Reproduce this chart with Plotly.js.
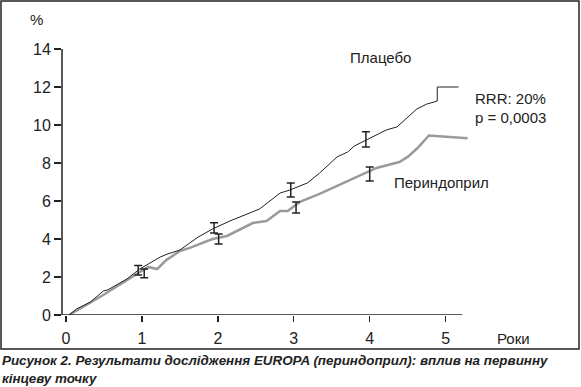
<!DOCTYPE html>
<html><head><meta charset="utf-8">
<script src="https://cdn.plot.ly/plotly-3.0.1.min.js"></script>
<style>html,body{margin:0;padding:0;background:#fff}</style>
</head><body><div id="chart" style="width:581px;height:387px"></div>
<script>
const placeboX = [0.04,0.14,0.32,0.49,0.55,0.80,0.97,1.24,1.33,1.5,1.63,1.74,1.93,2.16,2.55,2.82,2.95,3.18,3.34,3.57,3.71,3.80,4.22,4.36,4.62,4.75,4.89,4.89,5.17];
const placeboY = [0,0.32,0.68,1.26,1.32,1.89,2.42,3.05,3.2,3.42,3.79,4.1,4.53,4.95,5.58,6.42,6.58,6.95,7.47,8.32,8.58,8.9,9.74,9.9,10.84,11.1,11.26,12.0,12.0];
const periX = [0.04,0.32,0.49,1.08,1.2,1.32,1.5,1.63,1.93,2.12,2.46,2.64,2.82,2.92,3.08,3.34,3.51,4.09,4.39,4.5,4.63,4.78,5.29];
const periY = [0,0.68,1.05,2.53,2.42,2.89,3.37,3.53,4.0,4.16,4.84,4.95,5.47,5.47,5.95,6.37,6.68,7.74,8.05,8.32,8.79,9.45,9.3];
const placeboErrX = [0.95,1.95,2.96,3.95];
const placeboErrC = [2.35,4.58,6.58,9.24];
const placeboErrH = [0.25,0.27,0.37,0.4];
const periErrX = [1.03,2.01,3.03,4.0];
const periErrC = [2.19,4.0,5.66,7.42];
const periErrH = [0.23,0.26,0.29,0.37];
const yTicks = [0,2,4,6,8,10,12,14];
const xTicks = [0,1,2,3,4,5];

const ink = '#222';
const F = 'Liberation Sans, Arial, sans-serif';
const traces = [
  {x: periX, y: periY, mode:'lines', line:{color:'#9a9a9a', width:2.5}, hoverinfo:'skip'},
  {x: placeboX, y: placeboY, mode:'lines', line:{color:ink, width:1}, hoverinfo:'skip'},
  {x: placeboErrX, y: placeboErrC, mode:'markers', marker:{size:1, color:ink, opacity:0},
   error_y:{type:'data', array: placeboErrH, color: ink, thickness:1.5, width:4}},
  {x: periErrX, y: periErrC, mode:'markers', marker:{size:1, color:ink, opacity:0},
   error_y:{type:'data', array: periErrH, color: ink, thickness:1.5, width:4}}
];
const W=414, H=266, L=62, T=49;
const px = v => (v-L)/W, py = v => (T+H-v)/H;
const ann = (o) => Object.assign({showarrow:false, yanchor:'middle', xanchor:'center'}, o);
const layout = {
  width:581, height:387, showlegend:false,
  margin:{l:L, r:581-L-W, t:T, b:387-T-H},
  paper_bgcolor:'#fff', plot_bgcolor:'#fff',
  font:{family:F, color:ink},
  xaxis:{range:[-0.053,5.4], tickvals:xTicks, ticktext:xTicks.map(String), showgrid:false, zeroline:false,
    showline:false, ticks:'outside', ticklen:6, tickwidth:1.3, tickcolor:ink, ticklabelstandoff:3,
    tickfont:{size:16, family:F, color:ink}, fixedrange:true},
  yaxis:{range:[0,14], tickvals:yTicks, ticktext:yTicks.map(String), showgrid:false, zeroline:false,
    showline:false, ticks:'outside', ticklen:7, tickwidth:1.3, tickcolor:ink, tickfont:{size:16, family:F, color:ink}, fixedrange:true},
  shapes:[
    {type:'line', xref:'x', yref:'y', x0:-0.053, x1:5.22, y0:0, y1:0, line:{color:ink, width:1.5}},
    {type:'line', xref:'paper', yref:'y', x0:0, x1:0, y0:0, y1:14, line:{color:ink, width:1.5}},
    {type:'rect', xref:'paper', yref:'paper', x0:px(1), x1:px(579), y0:py(349), y1:py(1), line:{color:ink, width:1.5}}
  ],
  annotations:[
    ann({xref:'x', yref:'y', x:4.14, y:13.53, text:'Плацебо', font:{size:15}}),
    ann({xref:'x', yref:'y', x:5.36, y:11.42, text:'RRR: 20%', xanchor:'left', font:{size:15}}),
    ann({xref:'x', yref:'y', x:5.36, y:10.42, text:'p = 0,0003', xanchor:'left', font:{size:15}}),
    ann({xref:'x', yref:'y', x:4.30, y:6.95, text:'Периндоприл', xanchor:'left', font:{size:15}}),
    ann({xref:'paper', yref:'paper', x:px(36), y:py(20), text:'%', font:{size:15}}),
    ann({xref:'paper', yref:'paper', x:px(495), y:py(338), text:'Роки', xanchor:'left', font:{size:15}}),
    ann({xref:'paper', yref:'paper', x:px(0), y:py(360), text:'<b><i>Рисунок 2. Результати дослідження EUROPA (периндоприл): вплив на первинну</i></b>', xanchor:'left', font:{size:13.4}}),
    ann({xref:'paper', yref:'paper', x:px(0), y:py(378), text:'<b><i>кінцеву точку</i></b>', xanchor:'left', font:{size:13.4}})
  ]
};
Plotly.newPlot('chart', traces, layout, {displayModeBar:false, staticPlot:true});
</script></body></html>
